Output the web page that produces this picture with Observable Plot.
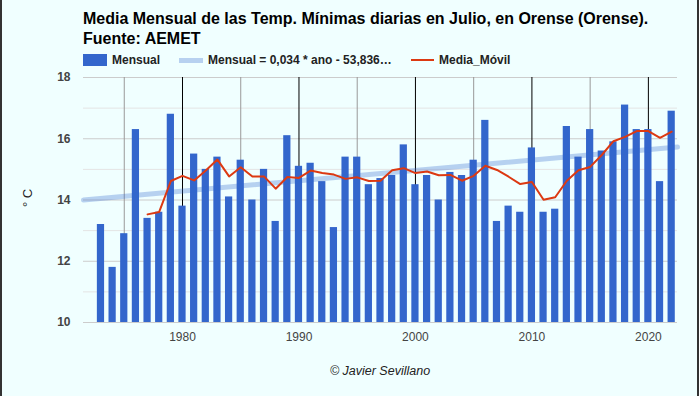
<!DOCTYPE html>
<html><head><meta charset="utf-8">
<script src="https://cdn.jsdelivr.net/npm/d3@7"></script>
<script src="https://cdn.jsdelivr.net/npm/@observablehq/plot@0.6"></script>
<style>
html,body{margin:0;padding:0;}
body{width:699px;height:396px;overflow:hidden;background:#f0ffff;font-family:"Liberation Sans",Arial,sans-serif;}
#wrap{position:relative;width:699px;height:396px;}
.abs{position:absolute;}
#title{left:83px;top:9px;font-size:16px;font-weight:bold;line-height:20px;color:#000;white-space:nowrap;}
.leg{top:53px;height:14px;display:flex;align-items:center;font-size:12px;font-weight:bold;color:#222;white-space:nowrap;}
.sw{display:inline-block;margin-right:5px;}
#cap{left:83px;width:594px;top:364px;text-align:center;font-size:12.5px;font-style:italic;color:#222;line-height:15px;}
#ylab{left:27px;top:198px;font-size:13px;color:#222;transform:translate(-50%,-50%) rotate(-90deg);white-space:nowrap;}
#chart{left:0;top:65px;}
.bl{top:0;width:2px;height:396px;background:#333;}
</style>
</head><body>
<div id="wrap">
  <div class="abs bl" style="left:0"></div>
  <div class="abs bl" style="left:697px"></div>
  <div id="title" class="abs">Media Mensual de las Temp. Mínimas diarias en Julio, en Orense (Orense).<br>Fuente: AEMET</div>
  <div class="abs leg" style="left:83px"><span class="sw" style="width:24px;height:12px;background:#3366cc"></span>Mensual</div>
  <div class="abs leg" style="left:179px"><span class="sw" style="width:24px;height:5px;background:#b7d1f0"></span>Mensual = 0,034 * ano - 53,836…</div>
  <div class="abs leg" style="left:411px"><span class="sw" style="width:23px;height:2px;background:#dc3912"></span>Media_Móvil</div>
  <div id="ylab" class="abs">° C</div>
  <div id="chart" class="abs"></div>
  <div id="cap" class="abs">© Javier Sevillano</div>
</div>
<script>
const years = [1973,1974,1975,1976,1977,1978,1979,1980,1981,1982,1983,1984,1985,1986,1987,1988,1989,1990,1991,1992,1993,1994,1995,1996,1997,1998,1999,2000,2001,2002,2003,2004,2005,2006,2007,2008,2009,2010,2011,2012,2013,2014,2015,2016,2017,2018,2019,2020,2021,2022];
const mensual = [13.2,11.8,12.9,16.3,13.4,13.6,16.8,13.8,15.5,15.0,15.4,14.1,15.3,14.0,15.0,13.3,16.1,15.1,15.2,14.6,13.1,15.4,15.4,14.5,14.7,14.8,15.8,14.5,14.8,14.0,14.9,14.8,15.3,16.6,13.3,13.8,13.6,15.7,13.6,13.7,16.4,15.4,16.3,15.6,15.9,17.1,16.3,16.3,14.6,16.9];
const mediaMovil = [null,null,null,null,13.53,13.61,14.62,14.79,14.64,14.96,15.32,14.77,15.07,14.77,14.77,14.37,14.75,14.72,14.96,14.88,14.83,14.69,14.74,14.62,14.63,14.97,15.04,14.88,14.93,14.81,14.82,14.63,14.79,15.12,14.98,14.76,14.52,14.59,14.01,14.09,14.63,14.97,15.08,15.47,15.92,16.06,16.25,16.25,16.03,16.23];
const trendYears = [1971.5, 2022.5];
const trendValues = [14.0, 15.73];
const xTicks = [1980,1990,2000,2010,2020];
const xMinorTicks = [1975,1985,1995,2005,2015];
const yTicks = [10,12,14,16,18];
const yMinorTicks = [11,13,15,17];

const data = years.map((y,i)=>({year:y, value:mensual[i], mov:mediaMovil[i]}));
const movData = data.filter(d=>d.mov!=null);
const trend = trendYears.map((y,i)=>({year:y, value:trendValues[i]}));

const chart = Plot.plot({
  width: 699, height: 290,
  marginLeft: 83, marginRight: 22, marginTop: 12, marginBottom: 33,
  style: {background: "transparent", fontFamily: "Liberation Sans, Arial, sans-serif", overflow: "visible"},
  x: {domain: [1971.5, 2022.5]},
  y: {domain: [10, 18]},
  marks: [
    Plot.ruleY(yMinorTicks, {stroke: "#e4e4e4"}),
    Plot.ruleY(yTicks, {stroke: "#cccccc"}),
    Plot.ruleX(xMinorTicks, {stroke: "#999999"}),
    Plot.ruleX(xTicks, {stroke: "#000000"}),
    Plot.rectY(data, {x1: d=>d.year-0.31, x2: d=>d.year+0.31, y1: 10, y2: "value", fill: "#3366cc"}),
    Plot.line(trend, {x: "year", y: "value", stroke: "#3366cc", strokeOpacity: 0.3, strokeWidth: 5}),
    Plot.line(movData, {x: "year", y: "mov", stroke: "#dc3912", strokeWidth: 2}),
    Plot.axisX({ticks: xTicks, tickFormat: d=>String(d), tickSize: 0, tickPadding: 10, label: null, fontSize: 12, fill: "#444"}),
    Plot.axisY({ticks: yTicks, tickSize: 0, tickPadding: 13, label: null, fontSize: 12, fontWeight: "bold", fill: "#444"})
  ]
});
document.getElementById("chart").appendChild(chart);
</script>
</body></html>
